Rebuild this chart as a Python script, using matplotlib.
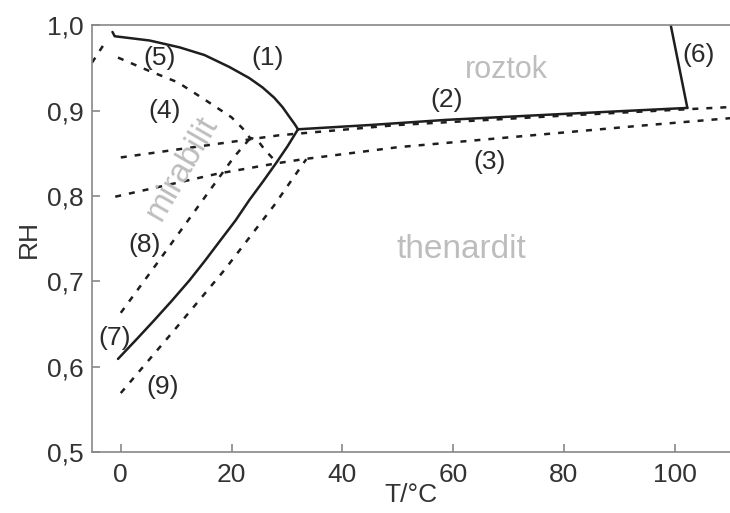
import numpy as np
import matplotlib.pyplot as plt

plt.rcParams['font.family'] = ['Liberation Sans', 'DejaVu Sans']

# phase boundaries, T in degC and RH as fraction
c1_T = [-1.5, -1.1, 5.2, 10.6, 15.1, 19.6, 23.2, 25.6, 27.7, 29.2, 30.4, 31.4, 32.0]
c1_RH = [0.992, 0.987, 0.982, 0.974, 0.965, 0.951, 0.938, 0.927, 0.915, 0.904,
         0.893, 0.884, 0.878]

c2_T = [32.0, 45.0, 58.7, 80.0, 102.3]
c2_RH = [0.878, 0.883, 0.889, 0.896, 0.903]

c6_T = [99.3, 102.3]
c6_RH = [1.0, 0.903]

c7_T = [-0.5, 3.0, 6.0, 9.2, 12.4, 15.2, 18.0, 20.7, 23.2, 25.7, 28.0, 30.1, 32.0]
c7_RH = [0.609, 0.633, 0.654, 0.677, 0.701, 0.724, 0.748, 0.771, 0.795, 0.817,
         0.838, 0.858, 0.878]

# metastable / dashed boundaries
d1_T = [0.0, 17.5, 28.6, 50.0, 80.0, 102.3, 110.0]
d1_RH = [0.845, 0.861, 0.871, 0.883, 0.894, 0.9015, 0.904]

d3_T = [-1.0, 17.5, 28.0, 33.0, 50.0, 93.5, 110.0]
d3_RH = [0.799, 0.826, 0.838, 0.843, 0.857, 0.882, 0.891]

d4_T = [-0.5, 4.9, 10.3, 15.1, 20.0, 22.0, 23.3, 24.6, 26.0, 28.0]
d4_RH = [0.962, 0.947, 0.933, 0.913, 0.892, 0.879, 0.868, 0.866, 0.854, 0.840]

d5_T = [-5.2, -3.0]
d5_RH = [0.956, 0.978]

d8_T = [0.0, 7.0, 13.9, 20.5, 23.3]
d8_RH = [0.663, 0.725, 0.787, 0.846, 0.867]

d9_T = [0.0, 9.7, 18.7, 27.7, 30.8, 33.5]
d9_RH = [0.569, 0.643, 0.713, 0.789, 0.818, 0.843]

labels = ['(1)', '(2)', '(3)', '(4)', '(5)', '(6)', '(7)', '(8)', '(9)']
label_T = [26.5, 58.9, 66.5, 7.9, 7.0, 104.3, -1.1, 4.3, 7.6]
label_RH = [0.961, 0.912, 0.840, 0.900, 0.962, 0.965, 0.633, 0.742, 0.576]

fig = plt.figure(figsize=(7.3, 5.13), dpi=100)
ax = fig.add_axes([0.126, 0.119, 0.874, 0.832])

solid = dict(color='#1e1e1e', lw=1.8, solid_capstyle='round', solid_joinstyle='round')
dashed = dict(color='#1e1e1e', lw=1.8, ls=(0, (2.4, 3.2)))

for T, RH in [(c1_T, c1_RH), (c2_T, c2_RH), (c6_T, c6_RH), (c7_T, c7_RH)]:
    ax.plot(T, RH, **solid)
for T, RH in [(d1_T, d1_RH), (d3_T, d3_RH), (d4_T, d4_RH), (d5_T, d5_RH),
              (d8_T, d8_RH), (d9_T, d9_RH)]:
    ax.plot(T, RH, **dashed)

for s, t, r in zip(labels, label_T, label_RH):
    ax.text(t, r, s, ha='center', va='center', fontsize=19, color='#2a2a2a')

grey = '#bdbdbd'
ax.text(62.2, 0.938, 'roztok', fontsize=22, color=grey, ha='left', va='baseline')
ax.text(49.8, 0.727, 'thenardit', fontsize=24, color=grey, ha='left', va='baseline')
ax.text(11.0, 0.833, 'mirabilit', fontsize=24, color=grey, ha='center', va='center',
        rotation=60, rotation_mode='anchor')

ax.set_xlim(-5.2, 110)
ax.set_ylim(0.5, 1.0)
ax.set_xticks([0, 20, 40, 60, 80, 100])
ax.set_yticks([0.5, 0.6, 0.7, 0.8, 0.9, 1.0])
ax.set_yticklabels(['0,5', '0,6', '0,7', '0,8', '0,9', '1,0'])
ax.tick_params(direction='in', length=6, width=1.2, color='#888888',
               labelsize=19, labelcolor='#333333', pad=6)
ax.tick_params(axis='x', pad=8)

for side in ['left', 'bottom', 'top']:
    ax.spines[side].set_color('#888888')
    ax.spines[side].set_linewidth(1.2)
ax.spines['right'].set_visible(False)

ax.set_xlabel('T/°C', fontsize=19, color='#333333', labelpad=-3)
ax.set_ylabel('RH', fontsize=19, color='#333333', labelpad=4)

fig.savefig('out.png', dpi=100)
